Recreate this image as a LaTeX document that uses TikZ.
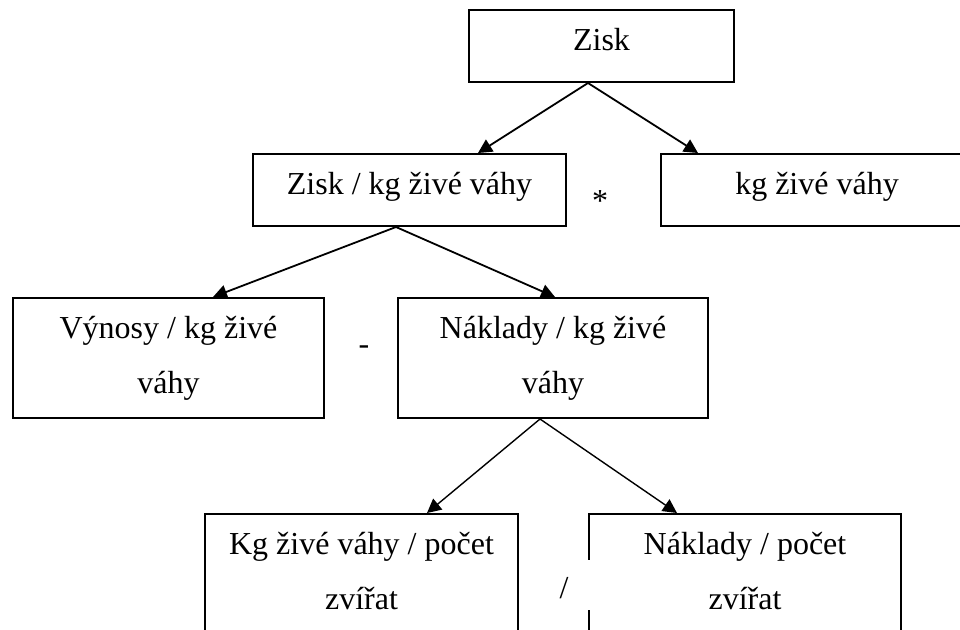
\documentclass[tikz,border=0pt]{standalone}
\usepackage{fontspec}
\setmainfont{Liberation Serif}
\usetikzlibrary{arrows.meta}
\usetikzlibrary{positioning}
\usetikzlibrary{calc}

\begin{document}
\begin{tikzpicture}[x=0.5pt,y=-0.5pt,>={Triangle[length=7pt,width=7pt]},
			font=\fontsize{16}{27.5}\selectfont]
			\tikzstyle{box}=[draw,line width=1pt,rectangle,inner sep=0pt,align=center,anchor=north west]
			\tikzstyle{oneline}=[text height=20pt,text depth=16pt]
			\tikzstyle{twoline}=[text height=47.5pt,text depth=12.5pt]
			\tikzstyle{tall}=[text height=47.5pt,text depth=16pt]
			\tikzstyle{link}=[->,line width=0.9pt]
			\tikzstyle{thinlink}=[->,line width=0.7pt]
			
			\useasboundingbox (0,0) rectangle (960,629);
			
			\node[box,oneline,minimum width=132.5pt] (zisk)      at (468,9)   {Zisk};
			\node[box,oneline,minimum width=156.5pt] (zisk_kg)   at (252,153) {Zisk / kg živé váhy};
			\node[box,oneline,minimum width=156pt]   (kg)        at (660,153) {kg živé váhy};
			\node[box,twoline,minimum width=155.5pt] (vynosy)    at (12,297)  {Výnosy / kg živé\\váhy};
			\node[box,twoline,minimum width=155pt]   (naklady)   at (397,297) {Náklady / kg živé\\váhy};
			\node[box,tall,minimum width=156.5pt]    (kg_pocet)  at (204,513) {Kg živé váhy / počet\\zvířat};
			\node[box,tall,minimum width=156pt]      (nakl_pocet) at (588,513) {Náklady / počet\\zvířat};
			
			\node (times) at (600,201) {*};
			\node (minus) at (364,350) {-};
			\node (slash) at (564,588) {/};
			
			\draw[white,line width=2pt] ($(nakl_pocet.north west)+(0,47)$) -- ++(0,50);
			
			\draw[link] ([xshift=60pt]zisk.south west) -- ([xshift=113pt]zisk_kg.north west);
			\draw[link] ([xshift=60pt]zisk.south west) -- ([xshift=19pt]kg.north west);
			\draw[link] ([xshift=72pt]zisk_kg.south west) -- ([xshift=100.5pt]vynosy.north west);
			\draw[link] ([xshift=72pt]zisk_kg.south west) -- ([xshift=79pt]naklady.north west);
			\draw[thinlink] ([xshift=71.5pt]naklady.south west) -- ([xshift=111.5pt]kg_pocet.north west);
			\draw[thinlink] ([xshift=71.5pt]naklady.south west) -- ([xshift=44.5pt]nakl_pocet.north west);
\end{tikzpicture}
\end{document}
